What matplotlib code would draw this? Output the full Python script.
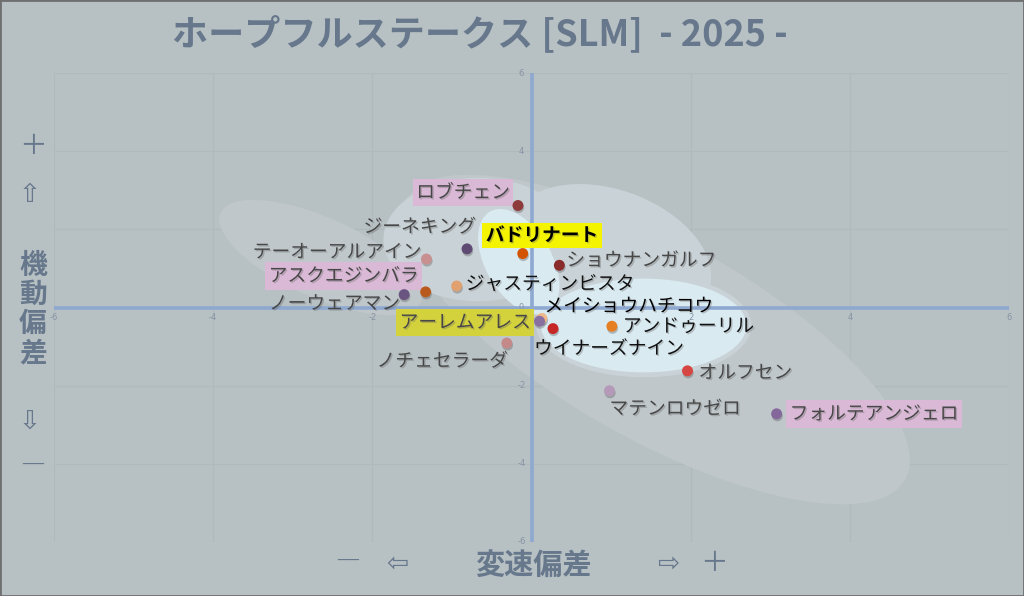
import numpy as np
import matplotlib
matplotlib.use("Agg")
import matplotlib.pyplot as plt
import matplotlib.patheffects as pe
from matplotlib.patches import Ellipse
from matplotlib.transforms import Affine2D

plt.rcParams['font.family'] = ['Noto Sans CJK JP', 'DejaVu Sans']

# ---------------- data ----------------
names = ["ロブチェン", "バドリナート", "ジーネキング", "テーオーアルアイン",
         "アスクエジンバラ", "ノーウェアマン", "ジャスティンビスタ", "アーレムアレス",
         "メイショウハチコウ", "ウイナーズナイン", "ノチェセラーダ", "ショウナンガルフ",
         "アンドゥーリル", "オルフセン", "マテンロウゼロ", "フォルテアンジェロ"]
speed_dev = [-0.17, -0.11, -0.81, -1.32, -1.33, -1.60, -0.94, 0.13,
             0.10, 0.27, -0.31, 0.35, 1.01, 1.96, 0.98, 3.08]
mobility_dev = [2.61, 1.38, 1.50, 1.24, 0.40, 0.33, 0.55, -0.28,
                -0.35, -0.54, -0.91, 1.08, -0.48, -1.62, -2.13, -2.72]
dot_colors = ["#8e3b3b", "#d35400", "#5e4a72", "#c89090", "#b85a1e", "#6a5580",
              "#e0a070", "#f0b888", "#8a70a0", "#c62828", "#c48a8a", "#8b2c2c",
              "#e67e22", "#d64541", "#b49ab8", "#84689c"]
ticks = [-6, -4, -2, 0, 2, 4, 6]
title = "ホープフルステークス [SLM]  - 2025 -"
xlabel = "変速偏差"
ylabel = "機動偏差"

# background zones:
# centre x, centre y (data), width, height (in y-units), angle (deg), layer
zone_cx = [1.56, -2.65, -0.67, 0.99, 1.41, 1.41, -0.16]
zone_cy = [-0.82, 1.28, 1.74, 1.35, -0.46, -0.46, 1.17]
zone_w = [14.64, 5.61, 4.85, 5.36, 5.51, 5.26, 2.96]
zone_h = [5.10, 2.04, 3.16, 3.32, 2.65, 2.40, 1.69]
zone_ang = [-29.3, -24.0, 0.0, -20.0, 0.0, 0.0, -60.0]
zone_layer = [0, 0, 1, 1, 1, 2, 2]

# label styles: (dx px, dy px, ha, text color, bg color or None, bold)
label_style = {
    "ロブチェン": (-8, 13, "right", "#474747", "#dab9d6", False),
    "バドリナート": (-37, 18, "left", "#000000", "#f4f400", True),
    "ジーネキング": (9, 22, "right", "#474747", None, False),
    "テーオーアルアイン": (-5, 7, "right", "#474747", None, False),
    "アスクエジンバラ": (-7, 16, "right", "#474747", "#dab9d6", False),
    "ノーウェアマン": (-4, -9, "right", "#474747", None, False),
    "ジャスティンビスタ": (9, 2, "left", "#111111", None, False),
    "アーレムアレス": (-11, -4, "right", "#474747", "#d4d23c", False),
    "メイショウハチコウ": (5, 15, "left", "#000000", None, False),
    "ウイナーズナイン": (-19, -20, "left", "#111111", None, False),
    "ノチェセラーダ": (1, -18, "right", "#474747", None, False),
    "ショウナンガルフ": (7, 5, "left", "#474747", None, False),
    "アンドゥーリル": (11, 0, "left", "#111111", None, False),
    "オルフセン": (11, -2, "left", "#474747", None, False),
    "マテンロウゼロ": (0, -18, "left", "#474747", None, False),
    "フォルテアンジェロ": (13, 0, "left", "#474747", "#dab9d6", False),
}

BG = "#b7c0c3"
SLATE = "#67788c"
zone_colors = ["#bfc7ca", "#c9d2d6", "#d9eaf1"]

fig = plt.figure(figsize=(10.24, 5.96), dpi=100, facecolor=BG)
ax = fig.add_axes([54 / 1024, (596 - 542) / 596, 955 / 1024, (542 - 73) / 596])
ax.set_facecolor(BG)
ax.set_xlim(-6, 6)
ax.set_ylim(-6, 6)
for s in ax.spines.values():
    s.set_visible(False)
ax.set_xticks([])
ax.set_yticks([])

# grid
for t in ticks:
    if t != 0:
        ax.axvline(t, color="#b0babd", lw=0.8, zorder=0)
        ax.axhline(t, color="#b0babd", lw=0.8, zorder=0)

# zones (drawn in an isotropic frame so the angles are visual angles)
fig.canvas.draw()
bb = ax.get_window_extent()
kx = (bb.width / 12.0) / (bb.height / 12.0)
iso = Affine2D().scale(1.0 / kx, 1.0) + ax.transData
for cx, cy, w, h, a, lay in zip(zone_cx, zone_cy, zone_w, zone_h, zone_ang, zone_layer):
    ax.add_patch(Ellipse((cx * kx, cy), w, h, angle=a, transform=iso,
                         fc=zone_colors[lay], ec="none", zorder=1 + 0.1 * lay))

# zero axes
ax.axhline(0, color="#8ea8cf", lw=2.6, zorder=2)
ax.axvline(0, color="#8ea8cf", lw=2.6, zorder=2)

# tick labels at the centre axes
tick_col = "#8893a5"
for t in ticks:
    ax.annotate(str(t), (t, 0), xytext=(0, -10), textcoords="offset pixels",
                ha="center", va="center", fontsize=6, color=tick_col,
                family="DejaVu Sans", zorder=3)
    ax.annotate(str(t), (0, t), xytext=(-10, 0), textcoords="offset pixels",
                ha="center", va="center", fontsize=6, color=tick_col,
                family="DejaVu Sans", zorder=3)

# labels
for nm, x, y in zip(names, speed_dev, mobility_dev):
    dx, dy, ha, tc, bg, bold = label_style[nm]
    kw = {}
    if bg is not None:
        kw["bbox"] = dict(boxstyle="square,pad=0.18", fc=bg, ec="none")
    ax.annotate(nm, (x, y), xytext=(dx, dy), textcoords="offset pixels",
                ha=ha, va="center", fontsize=13.5, color=tc,
                fontweight="bold" if bold else "normal", zorder=4,
                path_effects=[pe.withSimplePatchShadow(offset=(1, -1), shadow_rgbFace="#666666", alpha=0.35)],
                **kw)

# dots
sc = ax.scatter(speed_dev, mobility_dev, s=62, c=dot_colors, edgecolors="none", zorder=5)
sc.set_path_effects([pe.withSimplePatchShadow(offset=(0.5, -1.5), shadow_rgbFace="#555555", alpha=0.35)])

# title
fig.text(480 / 1024, 1 - 34 / 596, title, ha="center", va="center",
         fontsize=26, fontweight="bold", color=SLATE)

# y axis label (vertical)
fig.text(33 / 1024, 1 - 146 / 596, "＋", ha="center", va="center", fontsize=20, color=SLATE)
fig.text(30 / 1024, 1 - 195 / 596, "⇧", ha="center", va="center", fontsize=19, color=SLATE,
         family=["DejaVu Sans"])
for i, ch in enumerate(ylabel):
    fig.text(33 / 1024, 1 - (266 + i * 29) / 596, ch, ha="center", va="center",
             fontsize=20, fontweight="bold", color=SLATE)
fig.text(30 / 1024, 1 - 422 / 596, "⇩", ha="center", va="center", fontsize=19, color=SLATE,
         family=["DejaVu Sans"])
fig.text(33 / 1024, 1 - 467 / 596, "―", ha="center", va="center", fontsize=18,
         fontweight="bold", color=SLATE)

# x axis label
fig.text(348 / 1024, 1 - 563 / 596, "―", ha="center", va="center", fontsize=18,
         fontweight="bold", color=SLATE)
fig.text(397 / 1024, 1 - 565 / 596, "⇦", ha="center", va="center", fontsize=19, color=SLATE,
         family=["DejaVu Sans"])
fig.text(533 / 1024, 1 - 565 / 596, xlabel, ha="center", va="center", fontsize=21,
         fontweight="bold", color=SLATE)
fig.text(668 / 1024, 1 - 565 / 596, "⇨", ha="center", va="center", fontsize=19, color=SLATE,
         family=["DejaVu Sans"])
fig.text(714 / 1024, 1 - 563 / 596, "＋", ha="center", va="center", fontsize=20, color=SLATE)

# outer frame
fig.patches.append(plt.Rectangle((0, 0), 1, 1, transform=fig.transFigure, fill=False,
                                 ec="#6f6f6f", lw=2))

fig.savefig("out.png", dpi=100, facecolor=BG)
